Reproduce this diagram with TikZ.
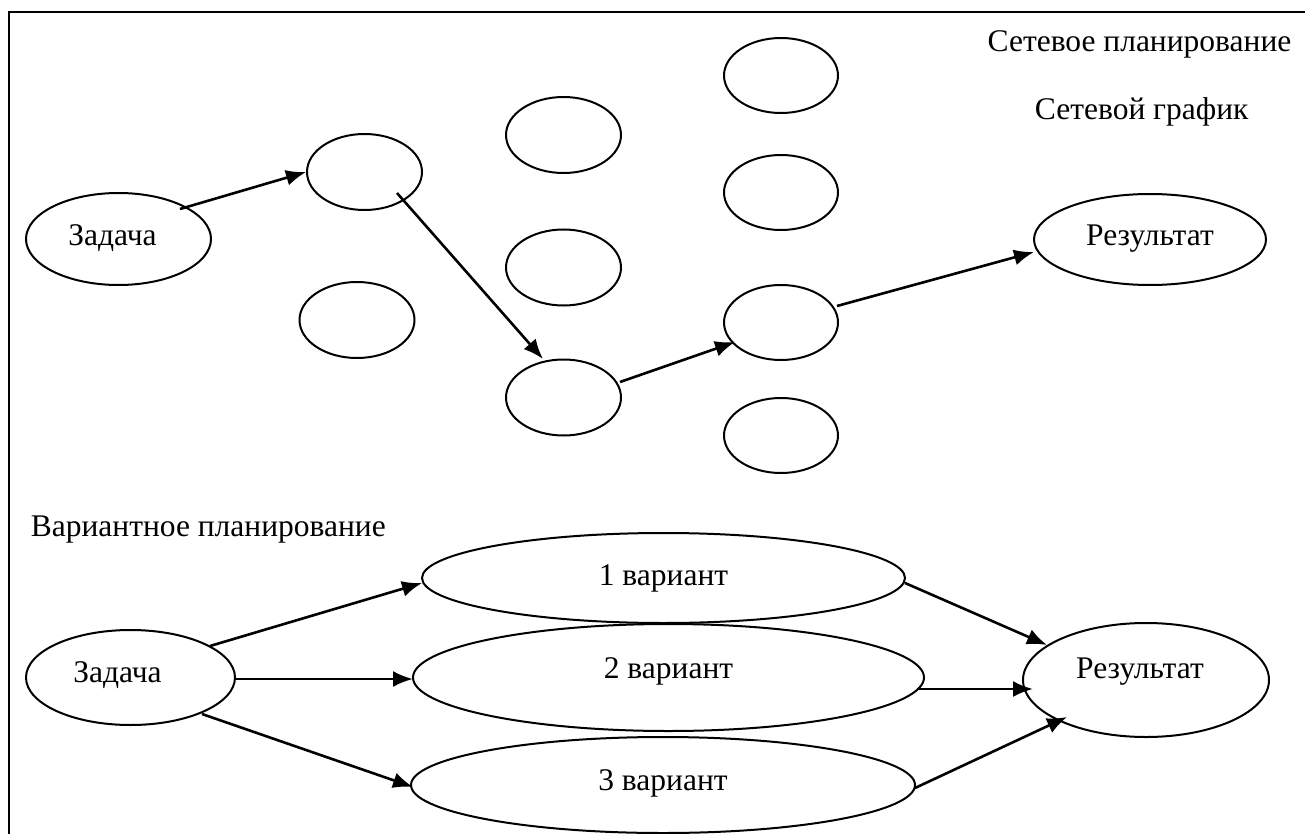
\documentclass[tikz,border=0pt]{standalone}
\usepackage{fontspec}
\setmainfont{Liberation Serif}
\usetikzlibrary{shapes.geometric,arrows.meta}
\tikzset{
  ell/.style={draw, ellipse, line width=2pt, inner sep=0pt, text height=22pt},
  sz/.style 2 args={minimum width=#1pt, minimum height=#2pt},
  dp/.style={text depth=#1pt},
  arr/.style={line width=2.6pt, -{Latex[length=20pt,width=16pt]}},
  lbl/.style={anchor=base, inner sep=0pt},
  frame/.style={line width=2.2pt}
}
\begin{document}
\begin{tikzpicture}[x=1pt,y=-1pt,every node/.style={font=\fontsize{31.5}{38}\selectfont}]
\useasboundingbox (0,0) rectangle (1305,834);
\fill[white] (0,0) rectangle (1305,834);
% frame
\coordinate (fbl) at (8.7,834);
\coordinate (ftr) at (1305,12.3);
\draw[frame] (fbl) |- (ftr);

% titles
\node[lbl] (t1) at (1139.5,52) {Сетевое планирование};
\node[lbl] (t2) at (1141.7,120) {Сетевой график};
\node[lbl] (t3) at (208.3,536.7) {Вариантное планирование};

% top network
\node[ell, sz={185}{92}, dp=9] (zad1) at (118.5,239) {Задача\hspace*{12pt}};
\node[ell, sz={115}{76}] (e1) at (364.5,172) {};
\node[ell, sz={115}{76}] (lone) at (357,320) {};
\node[ell, sz={115}{76}] (c2a) at (563.5,135) {};
\node[ell, sz={115}{76}] (c2b) at (563.5,267.5) {};
\node[ell, sz={115}{76}] (c2c) at (563.5,397.5) {};
\node[ell, sz={114}{75}] (c3a) at (781,75.5) {};
\node[ell, sz={114}{75}] (c3b) at (781,192.5) {};
\node[ell, sz={114}{75}] (c3c) at (781,322.5) {};
\node[ell, sz={114}{75}] (c3d) at (781,435.5) {};
\node[ell, sz={232}{91}, dp=10] (rez1) at (1150,239.5) {Результат};

\draw[arr] ([shift={(61.5,-30)}]zad1.center) -- (e1.west);
\draw[arr] ([shift={(32.5,21)}]e1.center) -- ([shift={(-20.5,-38.5)}]c2c.center);
\draw[arr] ([shift={(56.5,-15.5)}]c2c.center) -- ([shift={(-46,19.5)}]c3c.center);
\draw[arr] ([shift={(56,-16.5)}]c3c.center) -- ([shift={(-116,12.5)}]rez1.center);

% variant planning
\node[ell, sz={209}{95}, dp=12] (zad2) at (130.5,677.5) {Задача\hspace*{26pt}};
\node[ell, sz={483}{90}, dp=7] (v1) at (663.5,578) {1 вариант};
\node[ell, sz={511}{107}, dp=20] (v2) at (668.5,677.5) {2 вариант};
\node[ell, sz={504}{96}, dp=11] (v3) at (663,785) {3 вариант};
\node[ell, sz={246}{114}, dp=25] (rez2) at (1146,680) {Результат\hspace*{12pt}};

\draw[arr] ([shift={(79.5,-31.5)}]zad2.center) -- ([shift={(-241.5,5)}]v1.center);
\draw[arr] ([shift={(104.5,1.5)}]zad2.center) -- ([shift={(-255.5,1.5)}]v2.center);
\draw[arr] ([shift={(71.5,36.5)}]zad2.center) -- ([shift={(-250,2)}]v3.center);
\draw[arr] ([shift={(241.5,5)}]v1.center) -- ([shift={(-99,-35)}]rez2.center);
\draw[arr] ([shift={(248.5,11.5)}]v2.center) -- ([shift={(-113,9)}]rez2.center);
\draw[arr] ([shift={(252,3)}]v3.center) -- ([shift={(-79,37)}]rez2.center);
\end{tikzpicture}
\end{document}
